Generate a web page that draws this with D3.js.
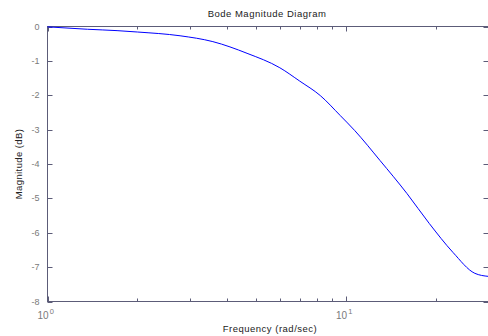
<!DOCTYPE html>
<html>
  <head>
    <script src="https://d3js.org/d3.v7.min.js"></script>
    <style>
      body { margin: 0; background: #fff; }
      text { font-family: "Liberation Sans", Arial, sans-serif; }
    </style>
  </head>
  <body>
    <svg id="chart"></svg>
    <script>
      // values
      var freq = [1, 1.36, 1.71, 2, 2.78, 3.58, 4.66, 6.0, 7.0, 8.2, 9.56, 10.7, 13.0, 16.0, 19.0, 22.8, 27.0, 30];
      var mag = [-0.01, -0.08, -0.12, -0.16, -0.27, -0.44, -0.78, -1.2, -1.59, -2.01, -2.59, -3.03, -3.9, -4.86, -5.73, -6.57, -7.18, -7.27];
      var yTicks = [0, -1, -2, -3, -4, -5, -6, -7, -8];
      var xMajor = [1, 10];
      var xMinor = [2, 3, 4, 5, 6, 7, 8, 9, 20];

      var width = 488, height = 336;
      var plotLeft = 47.5, plotRight = 488.5, plotTop = 26.5, plotBottom = 301.5;
      var axisColor = "#5c5c78", labelColor = "#7a7a7a";

      var svg = d3.select("#chart").attr("width", width).attr("height", height);

      var x = d3.scaleLog().domain([1, 30]).range([plotLeft, plotRight]);
      var y = d3.scaleLinear().domain([-8, 0]).range([plotBottom, plotTop]);

      // axes box
      svg.append("rect")
        .attr("x", plotLeft).attr("y", plotTop)
        .attr("width", plotRight - plotLeft).attr("height", plotBottom - plotTop)
        .attr("fill", "none").attr("stroke", axisColor);

      // y ticks left and right
      var g = svg.append("g").attr("stroke", axisColor);
      yTicks.forEach(function (t) {
        var yy = Math.round(y(t)) + 0.5;
        g.append("line").attr("x1", plotLeft).attr("x2", plotLeft + 5).attr("y1", yy).attr("y2", yy);
        g.append("line").attr("x1", plotRight - 5).attr("x2", plotRight).attr("y1", yy).attr("y2", yy);
      });
      // x ticks top and bottom
      function xTick(t, len) {
        var xx = Math.round(x(t)) + 0.5;
        g.append("line").attr("x1", xx).attr("x2", xx).attr("y1", plotBottom).attr("y2", plotBottom - len);
        g.append("line").attr("x1", xx).attr("x2", xx).attr("y1", plotTop).attr("y2", plotTop + len);
      }
      xMajor.forEach(function (t) { xTick(t, 5); });
      xMinor.forEach(function (t) { xTick(t, 3); });

      // y tick labels
      svg.selectAll(".ylab").data(yTicks).enter().append("text")
        .attr("x", plotLeft - 8).attr("y", function (d) { return y(d) + 3; })
        .attr("text-anchor", "end").attr("font-size", 9).attr("fill", labelColor)
        .text(function (d) { return d; });

      // x tick labels 10^n
      xMajor.forEach(function (t) {
        var lab = svg.append("text")
          .attr("x", x(t) - 10).attr("y", 319)
          .attr("text-anchor", "start").attr("font-size", 10).attr("fill", labelColor);
        lab.append("tspan").text("10");
        lab.append("tspan").attr("dy", -5).attr("dx", 1).attr("font-size", 7.5).text(Math.round(Math.log10(t)));
      });

      // curve
      var line = d3.line()
        .x(function (d, i) { return x(freq[i]); })
        .y(function (d) { return y(d); })
        .curve(d3.curveMonotoneX);
      svg.append("path").datum(mag)
        .attr("d", line).attr("fill", "none")
        .attr("stroke", "#0000ff").attr("stroke-width", 1);

      // titles
      var mid = (plotLeft + plotRight) / 2;
      svg.append("text").attr("x", mid - 1).attr("y", 17)
        .attr("text-anchor", "middle").attr("font-size", 9.5).attr("letter-spacing", 0.5)
        .attr("fill", "#222").text("Bode Magnitude Diagram");
      svg.append("text").attr("x", mid + 2).attr("y", 332)
        .attr("text-anchor", "middle").attr("font-size", 9.5).attr("letter-spacing", 0.5)
        .attr("fill", "#222").text("Frequency (rad/sec)");
      svg.append("text")
        .attr("transform", "translate(22," + ((plotTop + plotBottom) / 2) + ") rotate(-90)")
        .attr("text-anchor", "middle").attr("font-size", 9.5).attr("letter-spacing", 0.4)
        .attr("fill", "#222").text("Magnitude (dB)");
    </script>
  </body>
</html>
